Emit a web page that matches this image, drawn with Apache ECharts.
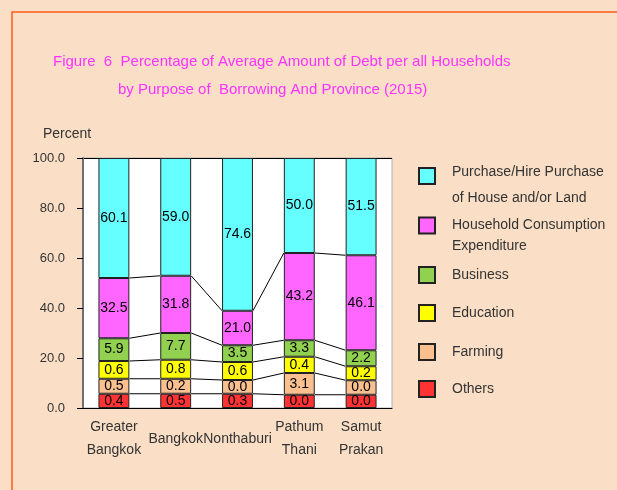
<!DOCTYPE html>
<html>
<head>
<meta charset="utf-8" />
<title>debt by purpose</title>
<script src="https://cdn.jsdelivr.net/npm/echarts@6/dist/echarts.min.js"></script>
<style>
  html, body { margin: 0; padding: 0; background: #fadfc6; }
  #main { width: 617px; height: 490px; }
</style>
</head>
<body>
<div id="main"></div>
<script>
var categories = ['Greater\nBangkok', 'Bangkok', 'Nonthaburi', 'Pathum\nThani', 'Samut\nPrakan'];

// values printed on the bars
var purchaseVal  = [60.1, 59.0, 74.6, 50.0, 51.5];
var householdVal = [32.5, 31.8, 21.0, 43.2, 46.1];
var businessVal  = [5.9, 7.7, 3.5, 3.3, 2.2];
var educationVal = [0.6, 0.8, 0.6, 0.4, 0.2];
var farmingVal   = [0.5, 0.2, 0.0, 3.1, 0.0];
var othersVal    = [0.4, 0.5, 0.3, 0.0, 0.0];

// segment heights as drawn in the picture (not to scale with the printed values)
var othersH    = [5.7, 5.7, 5.7, 5.3, 5.3];
var farmingH   = [6.0, 6.0, 5.5, 8.7, 5.8];
var educationH = [7.1, 7.6, 7.2, 6.5, 5.6];
var businessH  = [9.1, 10.7, 6.7, 6.6, 6.4];
var householdH = [24.1, 22.9, 13.8, 34.9, 38.0];
var purchaseH  = [48.0, 47.1, 61.1, 38.0, 38.9];

var yTicks = [0, 20, 40, 60, 80, 100];

// running tops of the lower five segments, for the series lines
var lower = [othersH, farmingH, educationH, businessH, householdH];
var tops = [];
var run = categories.map(function () { return 0; });
lower.forEach(function (arr) {
  run = run.map(function (v, i) { return v + arr[i]; });
  tops.push(run.slice());
});

var font = 'Liberation Sans';
var myChart = echarts.init(document.getElementById('main'));

function barSeries(name, heights, printed, color) {
  return {
    name: name,
    type: 'bar',
    stack: 'all',
    barWidth: '50%',
    data: heights,
    itemStyle: { color: color, borderColor: '#222', borderWidth: 1 },
    label: {
      show: true,
      position: 'inside',
      color: '#000',
      fontSize: 14,
      fontFamily: font,
      formatter: function (p) { return printed[p.dataIndex].toFixed(1); }
    }
  };
}

// two-line items get a spacer line on top so the square sits beside the first text line
function legendItem(name, top, lh, spacer) {
  return {
    data: [name],
    left: 418,
    top: top,
    padding: 0,
    icon: 'rect',
    itemWidth: 16,
    itemHeight: 16,
    selectedMode: false,
    formatter: function (n) {
      if (!lh) return n;
      return '{s| }\n' + n.split('\n').map(function (t) { return '{t|' + t + '}'; }).join('\n');
    },
    textStyle: { fontSize: 14, fontFamily: font, color: '#333', lineHeight: lh ? lh : 16,
      padding: [0, 0, 0, 12],
      rich: {
        s: { lineHeight: spacer || lh || 16, fontSize: 14 },
        t: { lineHeight: lh || 16, fontSize: 14, color: '#333', fontFamily: font }
      } }
  };
}

myChart.setOption({
  backgroundColor: '#fadfc6',
  textStyle: { fontFamily: font },
  title: [
    { text: 'Figure  6  Percentage of Average Amount of Debt per all Households', left: 48, top: 49,
      textStyle: { color: '#ff33ff', fontSize: 15, fontWeight: 'normal', fontFamily: font } },
    { text: 'by Purpose of  Borrowing And Province (2015)', left: 113, top: 77,
      textStyle: { color: '#ff33ff', fontSize: 15, fontWeight: 'normal', fontFamily: font } }
  ],
  graphic: [{
    type: 'rect', z: -1,
    shape: { x: 12, y: 12, width: 700, height: 600 },
    style: { fill: 'none', stroke: '#ff5a1f', lineWidth: 1.5 }
  }],
  legend: [
    legendItem('Purchase/Hire Purchase\nof House and/or Land', 141, 26, 18),
    legendItem('Household Consumption\nExpenditure', 194, 21),
    legendItem('Business', 266),
    legendItem('Education', 304),
    legendItem('Farming', 343),
    legendItem('Others', 380)
  ],
  grid: { left: 83, right: 225, top: 158, bottom: 82, show: true,
    backgroundColor: '#fff', borderColor: '#b0b0b0', borderWidth: 1 },
  xAxis: {
    type: 'category',
    data: categories,
    axisTick: { show: false },
    axisLine: { lineStyle: { color: '#000', width: 1 } },
    axisLabel: { color: '#333', fontSize: 14, lineHeight: 23, verticalAlign: 'middle', margin: 31, interval: 0 }
  },
  yAxis: {
    type: 'value',
    min: yTicks[0],
    max: yTicks[yTicks.length - 1],
    interval: 20,
    name: 'Percent',
    nameGap: 17,
    nameTextStyle: { color: '#333', fontSize: 14, align: 'center', padding: [0, 32, 0, 0] },
    axisLine: { show: true, lineStyle: { color: '#707070', width: 2 } },
    axisTick: { show: true, length: 6, lineStyle: { color: '#000' } },
    axisLabel: { color: '#333', fontSize: 13, margin: 18,
      formatter: function (v) { return v.toFixed(1); } },
    splitLine: { show: true, lineStyle: { color: ['transparent', 'transparent', 'transparent', 'transparent', 'transparent', '#000'] } }
  },
  series: [
    barSeries('Others', othersH, othersVal, '#ff3333'),
    barSeries('Farming', farmingH, farmingVal, '#fac090'),
    barSeries('Education', educationH, educationVal, '#ffff00'),
    barSeries('Business', businessH, businessVal, '#92d050'),
    barSeries('Household Consumption\nExpenditure', householdH, householdVal, '#ff66ff'),
    barSeries('Purchase/Hire Purchase\nof House and/or Land', purchaseH, purchaseVal, '#66ffff'),
    {
      type: 'custom',
      name: 'lines',
      silent: true,
      z: 3,
      data: categories.map(function (c, i) { return [i]; }),
      encode: { x: 0 },
      renderItem: function (params, api) {
        var i = api.value(0);
        if (i >= categories.length - 1) return null;
        var half = api.size([1, 0])[0] * 0.25;
        var kids = [];
        for (var k = 0; k < tops.length; k++) {
          var p1 = api.coord([i, tops[k][i]]);
          var p2 = api.coord([i + 1, tops[k][i + 1]]);
          kids.push({ type: 'line',
            shape: { x1: p1[0] + half, y1: p1[1], x2: p2[0] - half, y2: p2[1] },
            style: { stroke: '#000', lineWidth: 1 } });
        }
        return { type: 'group', children: kids };
      }
    }
  ]
});
</script>
</body>
</html>
